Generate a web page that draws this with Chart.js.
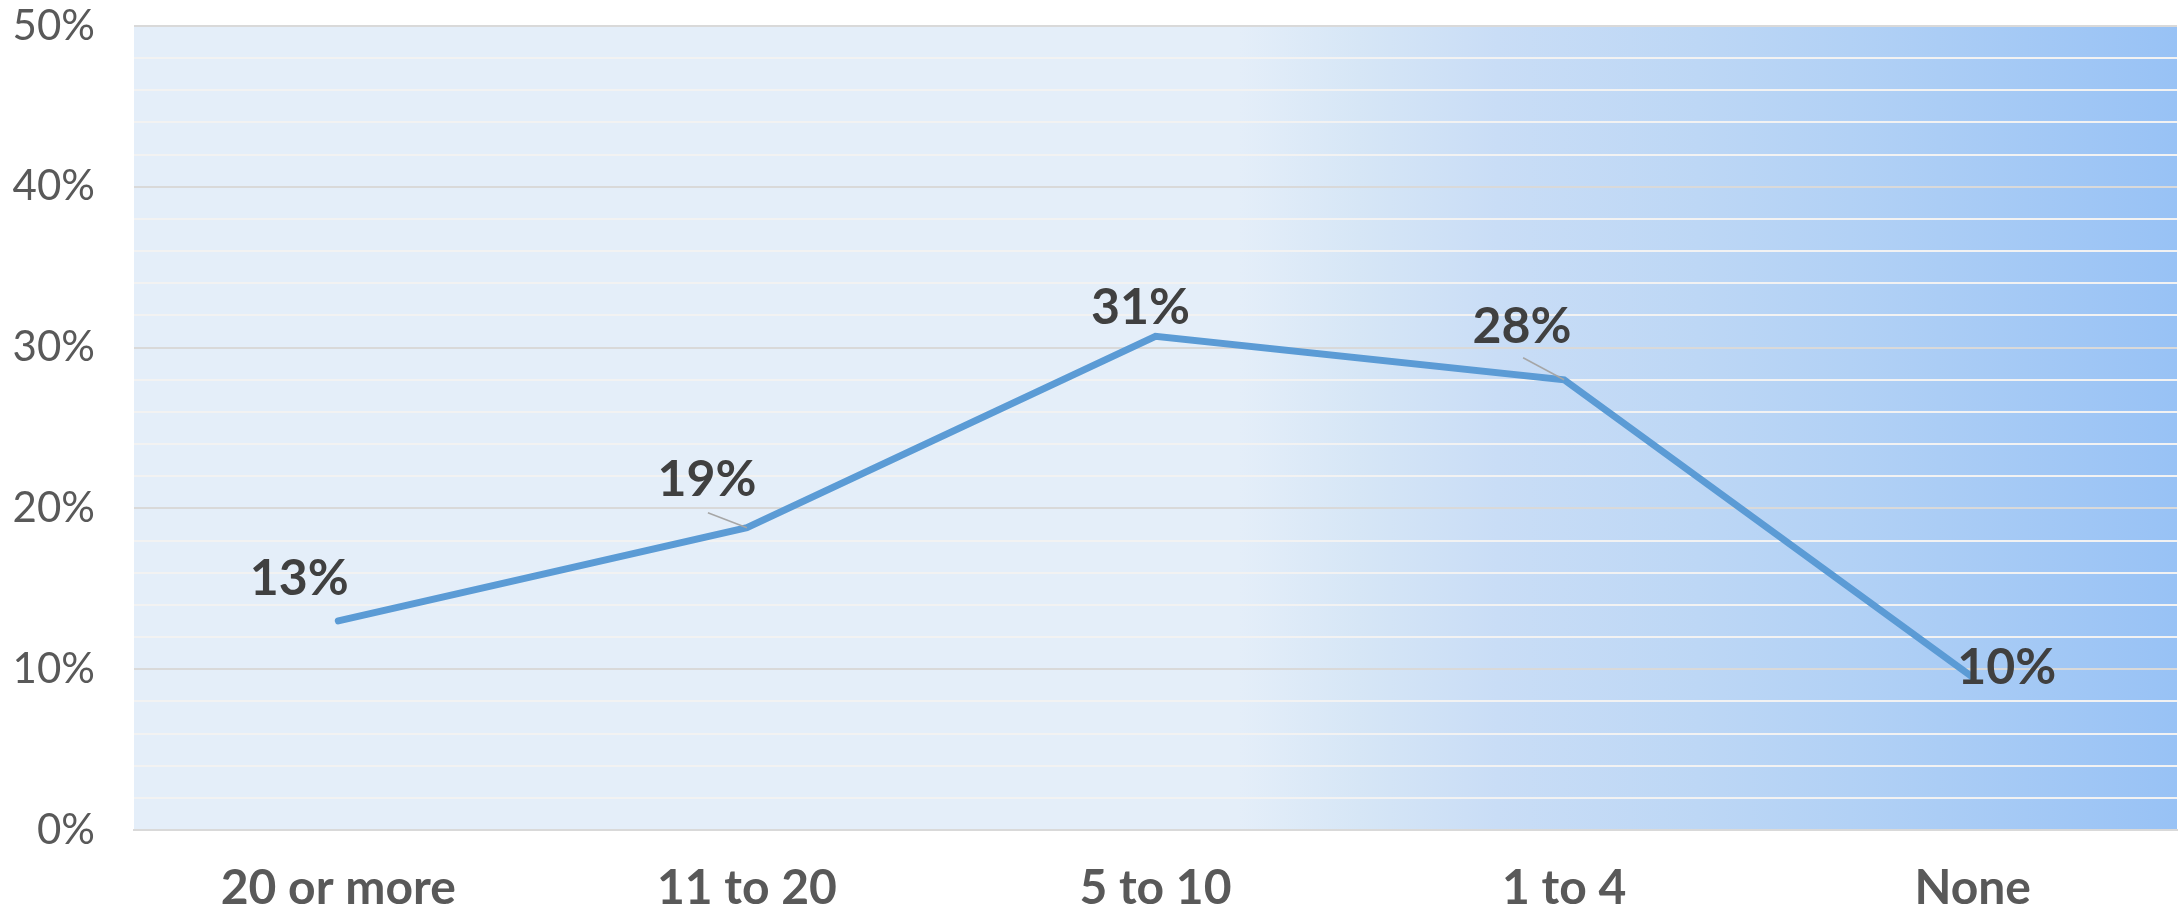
<!DOCTYPE html>
<html lang="en">
<head>
    <meta charset="UTF-8">
    <title>Line chart</title>
    <script src="https://cdn.jsdelivr.net/npm/chart.js"></script>
    <style>
        body {
            margin: 0;
            background: #ffffff;
        }
        #wrap {
            width: 2183px;
            height: 911px;
        }
    </style>
</head>
<body>
    <div id="wrap">
        <canvas id="chart" width="2183" height="911"></canvas>
    </div>

    <script>
        // data
        const categories = ['20 or more', '11 to 20', '5 to 10', '1 to 4', 'None'];
        const values = [13.0, 18.8, 30.7, 28.0, 9.5];
        const yTicks = [0, 10, 20, 30, 40, 50];

        // label placement relative to each point (px), plus leader lines
        const labelOffsets = [[-39, -42], [-40, -48], [-15, -28], [-42, -53], [34, -9]];
        const leaders = [null, [-39, -15], null, [-41, -22], null];

        const bgPlugin = {
            id: 'bg',
            beforeDraw(chart) {
                const { ctx, chartArea: a } = chart;
                const g = ctx.createLinearGradient(a.left, 0, a.right, 0);
                g.addColorStop(0, '#e4eef9');
                g.addColorStop(0.541, '#e4eef9');
                g.addColorStop(0.6, '#d6e6f6');
                g.addColorStop(0.667, '#c9ddf6');
                g.addColorStop(0.765, '#bdd7f5');
                g.addColorStop(0.84, '#b2d1f5');
                g.addColorStop(1, '#98c2f5');
                ctx.save();
                ctx.fillStyle = g;
                ctx.fillRect(a.left, a.top, a.right - a.left, a.bottom - a.top);
                ctx.restore();
            }
        };

        const labelPlugin = {
            id: 'pointLabels',
            afterDatasetsDraw(chart) {
                const ctx = chart.ctx;
                const pts = chart.getDatasetMeta(0).data;
                ctx.save();
                pts.forEach((p, i) => {
                    const l = leaders[i];
                    if (l) {
                        ctx.strokeStyle = '#a6a6a6';
                        ctx.lineWidth = 1.5;
                        ctx.beginPath();
                        ctx.moveTo(p.x + l[0], p.y + l[1]);
                        ctx.lineTo(p.x, p.y);
                        ctx.stroke();
                    }
                });
                ctx.font = 'bold 50px Lato, sans-serif';
                ctx.fillStyle = '#404040';
                ctx.textAlign = 'center';
                ctx.textBaseline = 'middle';
                pts.forEach((p, i) => {
                    const o = labelOffsets[i];
                    ctx.fillText(Math.round(values[i]) + '%', p.x + o[0], p.y + o[1]);
                });
                ctx.restore();
            }
        };

        new Chart(document.getElementById('chart'), {
            type: 'line',
            data: {
                labels: categories,
                datasets: [{
                    data: values,
                    borderColor: '#5b9bd5',
                    borderWidth: 7,
                    borderCapStyle: 'round',
                    pointRadius: 0,
                    tension: 0
                }]
            },
            options: {
                responsive: false,
                animation: false,
                layout: { padding: { top: 0, right: 6, left: 0, bottom: 0 } },
                plugins: {
                    legend: { display: false },
                    tooltip: { enabled: false }
                },
                scales: {
                    x: {
                        offset: true,
                        grid: { display: false },
                        border: { color: '#d9d9d9', width: 2 },
                        ticks: {
                            color: '#595959',
                            font: { family: 'Lato, sans-serif', size: 48, weight: 'bold' },
                            padding: 22
                        },
                        afterFit(s) { s.height = 81; }
                    },
                    y: {
                        min: 0,
                        max: 50,
                        border: { display: false },
                        grid: {
                            drawTicks: false,
                            lineWidth: 2,
                            color: (c) => yTicks.includes(c.tick.value) ? '#d9d9d9' : '#f2f2f2'
                        },
                        ticks: {
                            stepSize: 2,
                            autoSkip: false,
                            padding: 39,
                            color: '#595959',
                            font: { family: 'Lato, sans-serif', size: 42 },
                            callback: (v) => yTicks.includes(v) ? v + '%' : ''
                        },
                        afterFit(s) {
                            s.width = 134;
                            s.paddingTop = 26;
                            s.paddingBottom = 0;
                        }
                    }
                }
            },
            plugins: [bgPlugin, labelPlugin]
        });
    </script>
</body>
</html>
